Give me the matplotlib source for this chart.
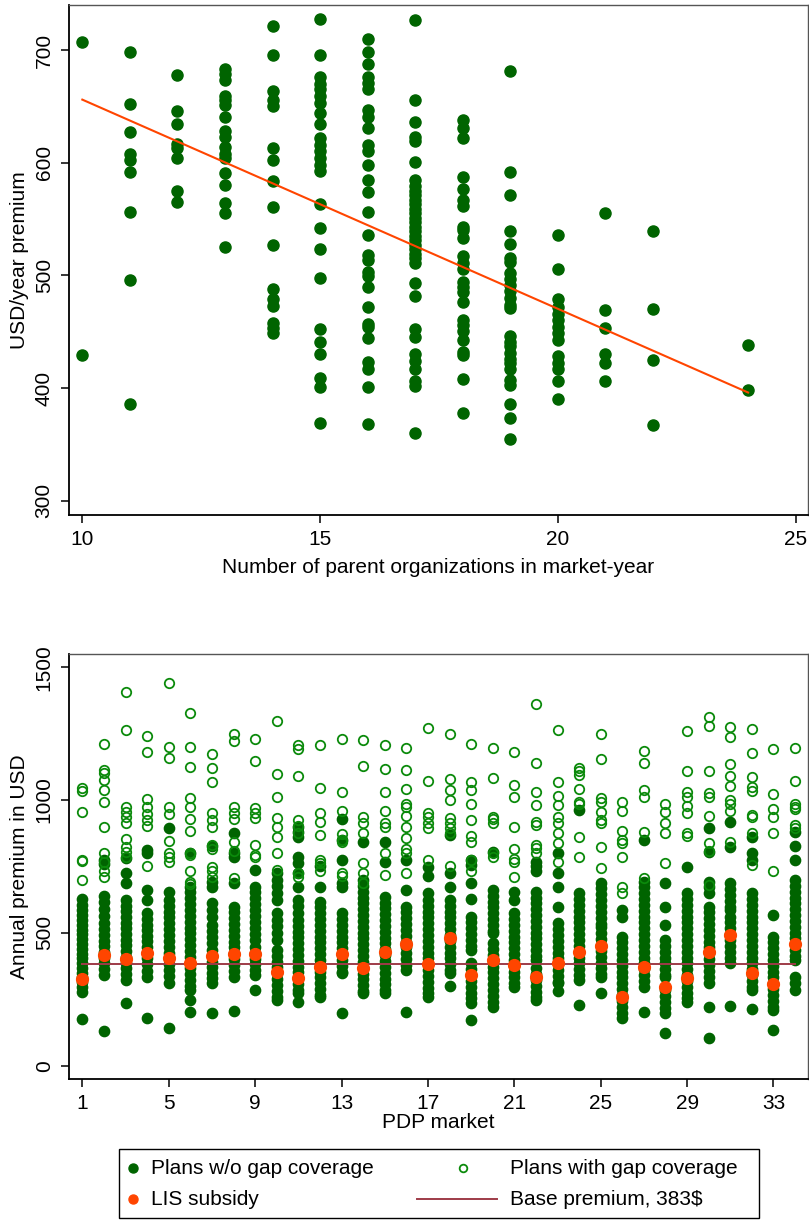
import matplotlib
matplotlib.use("Agg")
import matplotlib.pyplot as plt
from matplotlib.lines import Line2D
from matplotlib.patches import Rectangle
import numpy as np

plt.rcParams['font.family'] = ['Liberation Sans', 'DejaVu Sans']

# ---- top panel: premium vs number of parent organizations ----
org_counts = [10, 11, 12, 13, 14, 15, 16, 17, 18, 19, 20, 21, 22, 24]
org_premiums = [
    [707, 429],
    [698, 652, 627, 608, 602, 592, 556, 496, 386],
    [678, 646, 634, 617, 613, 604, 575, 565],
    [683, 679, 673, 659, 656, 651, 641, 628, 623, 614, 608, 604, 591, 580, 564, 555, 525],
    [721, 696, 664, 656, 650, 613, 602, 584, 561, 527, 488, 479, 473, 458, 453, 449],
    [728, 696, 676, 670, 665, 659, 653, 644, 634, 622, 616, 610, 604, 598, 593, 563, 542,
     523, 498, 452, 441, 430, 409, 401, 369],
    [710, 698, 688, 676, 671, 665, 647, 641, 631, 616, 610, 598, 585, 574, 556, 536, 518,
     514, 503, 499, 490, 472, 457, 454, 444, 423, 417, 401, 368],
    [727, 656, 636, 623, 619, 601, 585, 579, 575, 571, 567, 563, 559, 555, 551, 547, 543,
     539, 535, 531, 527, 523, 519, 515, 511, 493, 482, 452, 445, 430, 424, 417, 406, 402, 360],
    [638, 631, 622, 587, 577, 567, 562, 543, 540, 533, 517, 511, 506, 494, 490, 485, 476,
     460, 456, 451, 443, 432, 429, 408, 378],
    [681, 592, 571, 539, 528, 515, 512, 502, 497, 491, 486, 480, 474, 471, 446, 441, 437,
     431, 426, 422, 417, 407, 403, 386, 373, 355],
    [536, 506, 479, 472, 466, 460, 454, 449, 443, 428, 422, 417, 406, 390],
    [555, 469, 453, 430, 422, 406],
    [539, 470, 425, 367],
    [438, 398],
]
fit_x = [10, 24]
fit_y = [656, 396]

# ---- bottom panel: premiums by PDP market ----
markets = list(range(1, 35))
nogap_premiums = [
    [626, 604, 585, 566, 548, 530, 512, 494, 476, 458, 440, 422, 404, 386, 368, 350, 332, 314, 296, 276, 176],
    [774, 760, 639, 615, 590, 565, 536, 514, 492, 470, 450, 428, 407, 386, 364, 341, 131],
    [781, 724, 687, 624, 602, 581, 560, 538, 517, 496, 474, 453, 432, 410, 388, 366, 345, 323, 235],
    [812, 802, 662, 624, 574, 553, 531, 510, 489, 468, 447, 426, 404, 382, 358, 335, 181],
    [894, 655, 624, 602, 580, 558, 536, 514, 492, 470, 448, 426, 404, 382, 360, 338, 310, 141],
    [800, 674, 652, 630, 608, 586, 564, 542, 520, 498, 476, 454, 432, 410, 388, 366, 344, 322, 300, 285, 247, 201],
    [828, 693, 674, 611, 586, 561, 530, 507, 484, 461, 436, 414, 392, 370, 350, 330, 310, 197],
    [875, 800, 785, 689, 599, 577, 555, 533, 511, 489, 467, 445, 423, 401, 379, 357, 335, 207],
    [737, 674, 652, 630, 608, 586, 563, 540, 518, 495, 473, 448, 425, 403, 381, 360, 342, 285],
    [724, 700, 676, 650, 624, 574, 550, 525, 498, 473, 436, 414, 392, 370, 348, 326, 304, 282, 260, 247],
    [900, 880, 862, 787, 762, 724, 674, 624, 600, 574, 549, 527, 505, 483, 461, 439, 417, 395, 373, 351,
     329, 307, 285, 272, 239],
    [752, 674, 618, 596, 574, 552, 530, 508, 486, 464, 442, 420, 398, 376, 354, 332, 310, 288, 266, 260],
    [928, 850, 774, 687, 674, 574, 552, 530, 508, 486, 464, 442, 420, 398, 376, 354, 348, 200],
    [843, 699, 677, 655, 633, 611, 589, 567, 545, 523, 501, 479, 457, 435, 413, 391, 369, 347, 325, 303, 281, 272],
    [843, 768, 636, 614, 592, 570, 548, 526, 504, 482, 460, 438, 416, 394, 372, 350, 328, 306, 284, 272],
    [774, 662, 599, 577, 555, 533, 511, 489, 467, 445, 423, 401, 380, 360, 201],
    [749, 714, 649, 624, 602, 580, 558, 536, 514, 492, 470, 448, 426, 404, 382, 360, 338, 316, 294, 272, 260],
    [869, 724, 674, 624, 602, 580, 558, 536, 514, 492, 470, 448, 426, 404, 382, 360, 348, 300],
    [774, 756, 687, 626, 561, 539, 517, 495, 473, 451, 436, 385, 363, 341, 319, 297, 275, 255, 235, 172],
    [806, 662, 640, 618, 596, 574, 552, 530, 508, 498, 461, 439, 417, 395, 373, 351, 329, 307, 285, 263, 241, 222],
    [655, 624, 574, 552, 530, 508, 486, 464, 442, 420, 398, 376, 354, 332, 310, 298],
    [768, 750, 731, 655, 633, 611, 589, 567, 545, 523, 501, 479, 457, 435, 413, 398, 367, 345, 323, 301, 279,
     257, 247],
    [800, 724, 674, 599, 536, 514, 492, 470, 448, 426, 404, 382, 360, 338, 316, 310, 281],
    [963, 649, 627, 605, 583, 561, 539, 517, 495, 473, 451, 429, 407, 385, 363, 341, 323, 229],
    [689, 667, 645, 623, 601, 579, 557, 535, 523, 498, 476, 454, 432, 410, 388, 366, 344, 335, 275],
    [586, 561, 486, 464, 442, 420, 398, 376, 354, 332, 310, 288, 266, 244, 222, 200, 178],
    [850, 693, 671, 649, 627, 605, 583, 561, 539, 517, 495, 473, 451, 429, 407, 385, 363, 341, 319, 298, 203],
    [689, 599, 530, 473, 451, 429, 407, 385, 363, 341, 335, 285, 263, 241, 219, 197, 124],
    [749, 649, 627, 605, 583, 561, 539, 517, 495, 473, 451, 429, 407, 385, 363, 341, 319, 297, 275, 253, 241],
    [894, 806, 693, 671, 649, 599, 577, 555, 533, 511, 489, 467, 445, 423, 401, 379, 357, 335, 310, 222, 106],
    [916, 822, 687, 665, 643, 621, 599, 586, 561, 539, 517, 495, 473, 451, 429, 407, 385, 225],
    [862, 800, 774, 649, 627, 605, 583, 561, 539, 517, 495, 473, 451, 429, 407, 385, 363, 341, 319, 297, 285, 212],
    [567, 486, 464, 442, 420, 398, 376, 354, 332, 310, 288, 266, 244, 222, 210, 135],
    [881, 827, 774, 699, 677, 655, 633, 611, 589, 567, 545, 523, 501, 479, 457, 435, 413, 398, 335, 310, 285],
]
gap_premiums = [
    [1044, 1034, 955, 774, 771, 699],
    [1210, 1113, 1103, 1076, 1038, 994, 898, 800, 768, 734, 712],
    [1408, 1265, 975, 956, 938, 913, 852, 825, 806, 787],
    [1241, 1179, 1003, 975, 948, 923, 903, 753],
    [1442, 1199, 1160, 975, 948, 847, 802, 787, 768],
    [1329, 1201, 1126, 1007, 973, 928, 885, 802, 793, 734, 693, 684],
    [1174, 1120, 1066, 950, 923, 900, 831, 815, 747, 734, 712],
    [1249, 1222, 975, 953, 928, 843, 810, 705],
    [1230, 1147, 969, 950, 931, 831, 793, 785],
    [1298, 1098, 1013, 931, 900, 862, 802, 737],
    [1207, 1191, 1091, 923, 903, 875, 724, 712],
    [1207, 1046, 950, 918, 867, 774, 764, 731],
    [1229, 1029, 959, 872, 850, 843, 724, 714],
    [1225, 1128, 938, 913, 875, 762, 724, 689],
    [1207, 1116, 1029, 960, 915, 900, 800, 718],
    [1196, 1113, 1041, 985, 975, 940, 900, 856, 816, 802, 724],
    [1270, 1071, 953, 938, 913, 894, 774],
    [1249, 1078, 1038, 1000, 931, 913, 894, 877, 753],
    [1210, 1069, 1038, 985, 923, 866, 841, 774, 731],
    [1195, 1083, 938, 928, 913, 802, 787],
    [1180, 1056, 1010, 900, 816, 777, 768, 709],
    [1361, 1138, 1032, 983, 919, 906, 831, 818, 800],
    [1265, 1066, 1015, 982, 935, 915, 875, 840, 768],
    [1120, 1111, 1095, 1041, 994, 985, 862, 785],
    [1249, 1155, 1007, 994, 956, 925, 913, 822, 743],
    [994, 960, 885, 850, 840, 785, 674, 651],
    [1186, 1141, 1038, 1010, 881, 705],
    [985, 956, 915, 877, 762],
    [1258, 1111, 1032, 1010, 978, 953, 875, 865],
    [1312, 1277, 1111, 1025, 1010, 940, 840, 810, 680],
    [1274, 1236, 1135, 1091, 1053, 1000, 985, 960, 843],
    [1266, 1176, 1088, 1048, 1035, 944, 935, 875, 756],
    [1191, 1022, 965, 935, 877, 731],
    [1197, 1073, 985, 975, 966, 906, 896],
]
lis_subsidy = [325, 416, 400, 423, 404, 385, 413, 421, 421, 354, 329, 373, 421, 367, 429, 458, 383,
               480, 342, 398, 379, 333, 388, 429, 452, 257, 373, 298, 329, 427, 491, 348, 308, 457]
base_premium = 383

legend_labels = ['Plans w/o gap coverage', 'Plans with gap coverage',
                 'LIS subsidy', 'Base premium, 383$']

DARK_GREEN = '#006400'
OPEN_GREEN = '#0b8a0b'
ORANGE = '#ff4500'
MAROON = '#9e3b48'
FS = 15

fig = plt.figure(figsize=(8.09, 12.20), dpi=100)


def style_axes(ax):
    for side in ['left', 'bottom']:
        ax.spines[side].set_linewidth(1.3)
        ax.spines[side].set_color('black')
    for side in ['top', 'right']:
        ax.spines[side].set_linewidth(1.0)
        ax.spines[side].set_color('#555555')
    ax.tick_params(direction='out', length=6, width=1.1, labelsize=FS, pad=5,
                   top=False, right=False)
    for lbl in ax.get_yticklabels():
        lbl.set_rotation(90)
        lbl.set_va('center')


# top panel
ax1 = fig.add_axes([0.0853, 0.5779, 0.9135, 0.418])
x1 = np.repeat(org_counts, [len(v) for v in org_premiums])
y1 = np.concatenate(org_premiums)
ax1.plot(x1, y1, 'o', color=DARK_GREEN, ms=8, mec=DARK_GREEN, zorder=2)
ax1.plot(fit_x, fit_y, color=ORANGE, lw=1.5, zorder=3)
ax1.set_xlim(9.72, 25.26)
ax1.set_ylim(287.3, 740)
ax1.set_xticks([10, 15, 20, 25])
ax1.set_yticks([300, 400, 500, 600, 700])
ax1.set_xlabel('Number of parent organizations in market-year', fontsize=FS, labelpad=6)
ax1.set_ylabel('USD/year premium', fontsize=FS, labelpad=4)
style_axes(ax1)

# bottom panel
ax2 = fig.add_axes([0.0853, 0.1156, 0.9135, 0.3484])
x2 = np.repeat(markets, [len(v) for v in nogap_premiums])
y2 = np.concatenate(nogap_premiums)
x3 = np.repeat(markets, [len(v) for v in gap_premiums])
y3 = np.concatenate(gap_premiums)
ax2.plot(x2, y2, 'o', color=DARK_GREEN, ms=7.4, mec=DARK_GREEN, zorder=2)
ax2.plot(x3, y3, 'o', mfc='none', mec=OPEN_GREEN, ms=6.8, mew=1.3, zorder=3)
ax2.plot([markets[0], markets[-1]], [base_premium, base_premium], color=MAROON, lw=1.4, zorder=4)
ax2.plot(markets, lis_subsidy, 'o', color=ORANGE, ms=8.5, mec=ORANGE, zorder=5)
ax2.set_xlim(0.38, 34.6)
ax2.set_ylim(-50, 1550)
ax2.set_xticks(list(range(1, 34, 4)))
ax2.set_yticks([0, 500, 1000, 1500])
ax2.set_xlabel('PDP market', fontsize=FS, labelpad=0)
ax2.set_ylabel('Annual premium in USD', fontsize=FS, labelpad=4)
style_axes(ax2)

# legend box drawn in figure coordinates (Stata-like layout)
fig.add_artist(Rectangle((0.1471, 0.0016), 0.791, 0.0566, transform=fig.transFigure,
                         fill=False, edgecolor='black', lw=1.0))
row_y = [0.0426, 0.0172]
col_text_x = [0.1866, 0.6304]
fig.add_artist(Line2D([0.1644], [row_y[0]], transform=fig.transFigure, ls='none',
                      marker='o', color=DARK_GREEN, ms=6.5))
fig.add_artist(Line2D([0.1644], [row_y[1]], transform=fig.transFigure, ls='none',
                      marker='o', color=ORANGE, ms=6.5))
fig.add_artist(Line2D([0.5723], [row_y[0]], transform=fig.transFigure, ls='none',
                      marker='o', mfc='none', mec=OPEN_GREEN, ms=5.5, mew=1.3))
fig.add_artist(Line2D([0.5155, 0.6143], [row_y[1], row_y[1]], transform=fig.transFigure,
                      color=MAROON, lw=1.4))
fig.text(col_text_x[0], row_y[0], legend_labels[0], fontsize=FS, va='center', ha='left')
fig.text(col_text_x[1], row_y[0], legend_labels[1], fontsize=FS, va='center', ha='left')
fig.text(col_text_x[0], row_y[1], legend_labels[2], fontsize=FS, va='center', ha='left')
fig.text(col_text_x[1], row_y[1], legend_labels[3], fontsize=FS, va='center', ha='left')

fig.savefig('out.png', dpi=100)
